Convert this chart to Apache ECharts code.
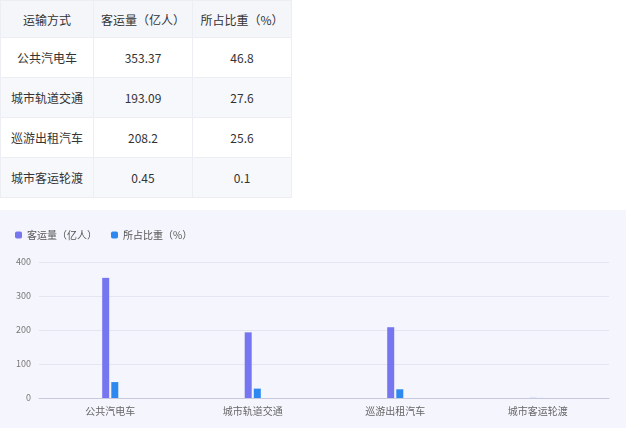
<!DOCTYPE html>
<html><head><meta charset="utf-8">
<script src="https://cdn.jsdelivr.net/npm/echarts@6/dist/echarts.min.js"></script>
<style>
html,body{margin:0;padding:0;width:626px;height:428px;overflow:hidden;background:#fff;font-family:"Noto Sans CJK SC","Noto Sans",sans-serif;}
table{position:absolute;left:0;top:0;border-collapse:collapse;font-size:12px;color:#333;}
td,th{border:1px solid #eceef4;text-align:center;font-weight:normal;padding:0;height:39px;}
th{background:#f5f6fa;height:36px;}
tr.alt td{background:#f7f8fc;}
td.c1,th.c1{width:92px;}
td.c2,th.c2{width:98px;}
td.c3,th.c3{width:98px;}
#chart{position:absolute;left:0;top:210px;width:626px;height:218px;background:#f5f6fd;}
</style></head>
<body>
<table id="tbl"></table>
<div id="chart"></div>
<script>
const headers = ['运输方式', '客运量（亿人）', '所占比重（%）'];
const categories = ['公共汽电车', '城市轨道交通', '巡游出租汽车', '城市客运轮渡'];
const volumeLabels = ['353.37', '193.09', '208.2', '0.45'];
const shareLabels = ['46.8', '27.6', '25.6', '0.1'];
const volume = [353.37, 193.09, 208.2, 0.45];
const share = [46.8, 27.6, 25.6, 0.1];

const tbl = document.getElementById('tbl');
let html = '<tr>' + headers.map((h, i) => '<th class="c' + (i + 1) + '">' + h + '</th>').join('') + '</tr>';
categories.forEach((c, i) => {
  html += '<tr class="' + (i % 2 === 1 ? 'alt' : '') + '"><td class="c1">' + c + '</td><td class="c2">' + volumeLabels[i] + '</td><td class="c3">' + shareLabels[i] + '</td></tr>';
});
tbl.innerHTML = html;

const chart = echarts.init(document.getElementById('chart'));
chart.setOption({
  backgroundColor: '#f5f6fd',
  textStyle: { fontFamily: '"Noto Sans CJK SC","Noto Sans",sans-serif' },
  legend: {
    left: 10, top: 15, itemWidth: 7, itemHeight: 7, itemGap: 14,
    icon: 'roundRect',
    textStyle: { fontSize: 10, color: '#555' },
    data: [headers[1], headers[2]]
  },
  grid: { left: 39, right: 17, top: 52, bottom: 30 },
  xAxis: {
    type: 'category', data: categories,
    axisLine: { lineStyle: { color: '#c8c9dc' } },
    axisTick: { show: false },
    axisLabel: { fontSize: 10, color: '#666', margin: 8 }
  },
  yAxis: {
    type: 'value', min: 0, max: 400, interval: 100,
    axisLine: { show: false }, axisTick: { show: false },
    axisLabel: { fontSize: 9, color: '#777', margin: 8 },
    splitLine: { lineStyle: { color: '#e4e5f0' } }
  },
  series: [
    { name: headers[1], type: 'bar', data: volume, barWidth: 7, barGap: '30%', itemStyle: { color: '#7676f0' } },
    { name: headers[2], type: 'bar', data: share, barWidth: 7, itemStyle: { color: '#2d89ef' } }
  ]
});
</script>
</body></html>
